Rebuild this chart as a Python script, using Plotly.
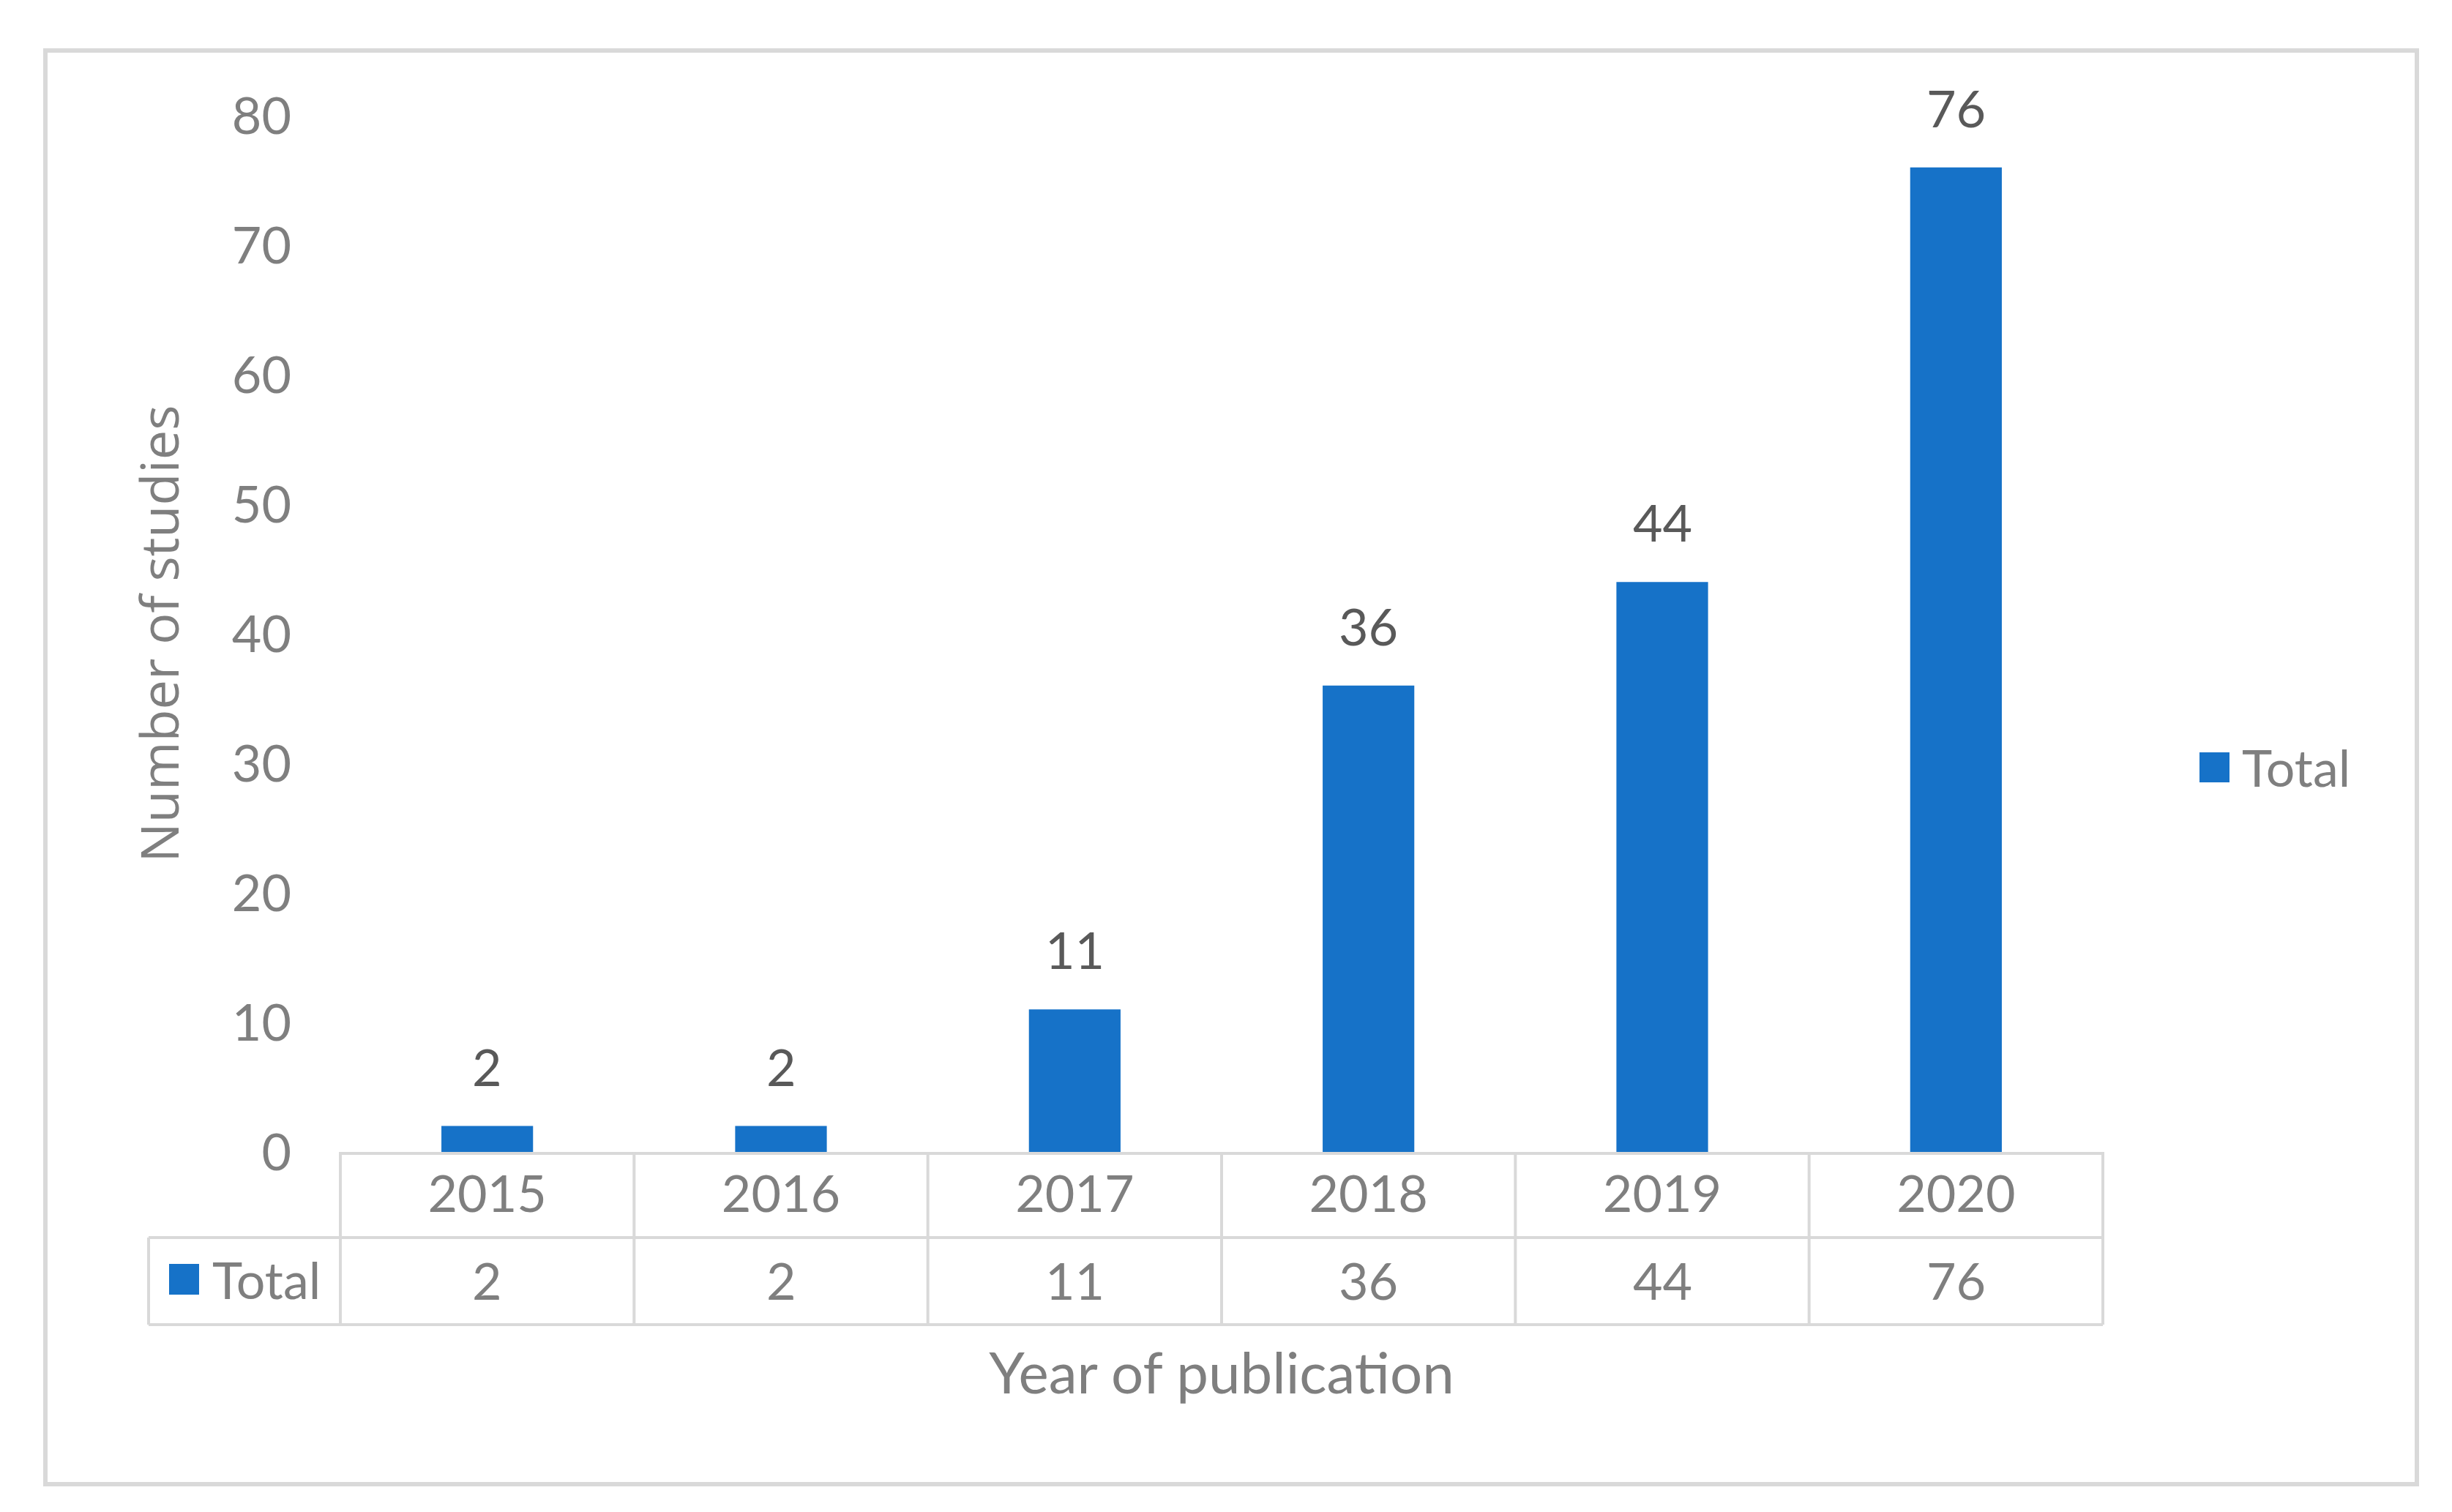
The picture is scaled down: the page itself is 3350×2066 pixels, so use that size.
import plotly.graph_objects as go

# ---- data ----
years = ["2015", "2016", "2017", "2018", "2019", "2020"]
totals = [2, 2, 11, 36, 44, 76]
series_name = "Total"
y_ticks = [0, 10, 20, 30, 40, 50, 60, 70, 80]

# ---- layout geometry (pixels) ----
W, H = 3350, 2066
L, R, T, B = 457, 485, 150, 500
PW, PH = W - L - R, H - T - B
BOTTOM = T + PH

BAR = "#1672c8"
GRID = "#d9d9d9"
TXT = "#7f7f7f"
LBL = "#595959"
FONT = "Lato"


def px_x(p):
    return (p - L) / PW


def px_y(p):
    return (BOTTOM - p) / PH


fig = go.Figure()
fig.add_trace(go.Bar(
    x=years, y=totals, name=series_name, marker=dict(color=BAR, line=dict(width=0)),
    showlegend=False, hoverinfo="x+y",
))

shapes = []
ln = dict(color=GRID, width=4)
# outer frame
shapes.append(dict(type="rect", xref="paper", yref="paper",
                   x0=px_x(54), x1=px_x(3294), y0=px_y(2020), y1=px_y(61),
                   line=dict(color=GRID, width=6), layer="below"))
# data table grid
n = len(years)
row1 = px_y(1683)
row2 = px_y(1802)
left = px_x(195)
shapes.append(dict(type="line", xref="paper", yref="paper", x0=left, x1=1, y0=row1, y1=row1, line=ln))
shapes.append(dict(type="line", xref="paper", yref="paper", x0=left, x1=1, y0=row2, y1=row2, line=ln))
shapes.append(dict(type="line", xref="paper", yref="paper", x0=left, x1=left, y0=row1, y1=row2, line=ln))
for k in range(n + 1):
    shapes.append(dict(type="line", xref="paper", yref="paper", x0=k / n, x1=k / n,
                       y0=0, y1=row2, line=ln))
# legend key in table
shapes.append(dict(type="rect", xref="paper", yref="paper",
                   x0=px_x(223), x1=px_x(264), y0=px_y(1761), y1=px_y(1719),
                   fillcolor=BAR, line=dict(width=0)))
# side legend key
shapes.append(dict(type="rect", xref="paper", yref="paper",
                   x0=px_x(2997), x1=px_x(3038), y0=px_y(1061), y1=px_y(1020),
                   fillcolor=BAR, line=dict(width=0)))

annotations = []
# data labels above bars
for i, v in enumerate(totals):
    annotations.append(dict(x=i, y=v, xref="x", yref="y", text=str(v), showarrow=False,
                            yanchor="middle", yshift=82,
                            font=dict(family=FONT, size=70, color=LBL)))
# data table values
for i, v in enumerate(totals):
    annotations.append(dict(x=i, y=px_y(1741), xref="x", yref="paper", text=str(v),
                            showarrow=False, yanchor="middle",
                            font=dict(family=FONT, size=70, color=TXT)))
annotations.append(dict(x=px_x(280), y=px_y(1740), xref="paper", yref="paper", text=series_name,
                        showarrow=False, xanchor="left", yanchor="middle",
                        font=dict(family=FONT, size=70, color=TXT)))
# side legend text
annotations.append(dict(x=px_x(3053), y=px_y(1040), xref="paper", yref="paper", text=series_name,
                        showarrow=False, xanchor="left", yanchor="middle",
                        font=dict(family=FONT, size=70, color=TXT)))

fig.update_layout(
    width=W, height=H,
    margin=dict(l=L, r=R, t=T, b=B, pad=0),
    paper_bgcolor="white", plot_bgcolor="white",
    bargap=0.688,
    shapes=shapes, annotations=annotations,
    showlegend=False,
    xaxis=dict(
        type="category", range=[-0.5, n - 0.5], showgrid=False, zeroline=False,
        showline=True, linecolor=GRID, linewidth=4, ticks="",
        tickfont=dict(family=FONT, size=70, color=TXT), ticklabelstandoff=-6,
        title=dict(text="Year of publication", standoff=180,
                   font=dict(family=FONT, size=78, color=TXT)),
        automargin=False,
    ),
    yaxis=dict(
        range=[0, 80], tickvals=y_ticks, showgrid=False, zeroline=False, showline=False,
        ticks="", tickfont=dict(family=FONT, size=70, color=TXT), ticklabelstandoff=66,
        title=dict(text="Number of studies", standoff=48,
                   font=dict(family="Open Sans", size=72, color=TXT)),
        automargin=False,
    ),
)

fig.write_html("out.html")
